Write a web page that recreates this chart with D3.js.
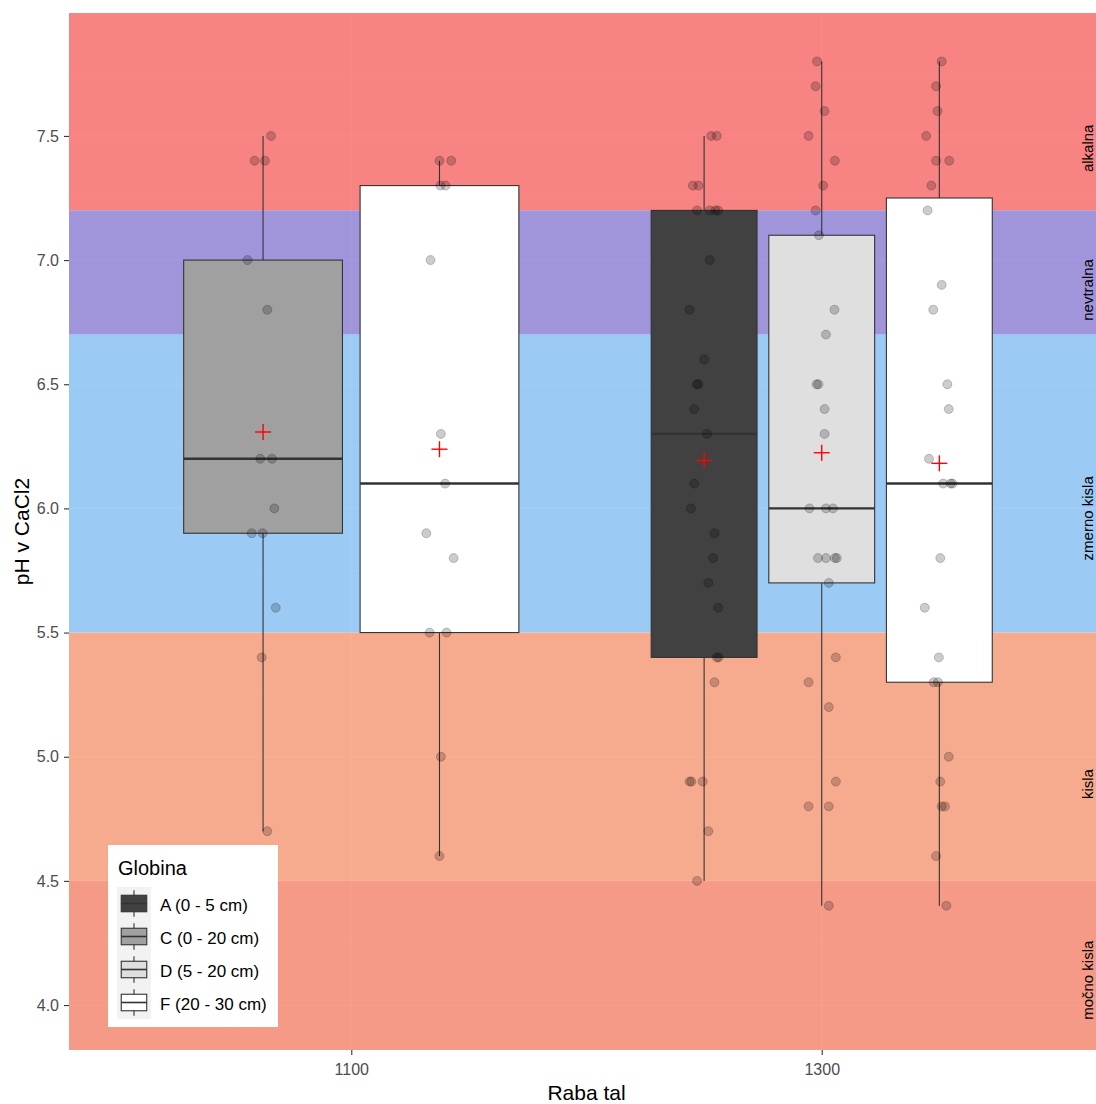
<!DOCTYPE html>
<html>
<head>
<meta charset="utf-8">
<script src="https://cdn.jsdelivr.net/npm/d3@7/dist/d3.min.js"></script>
<style>
  body { margin: 0; background: #fff; }
  svg { display: block; font-family: "Liberation Sans", Arial, sans-serif; }
</style>
</head>
<body>
<script>
// pH classes shown as horizontal bands
const bandNames   = ["alkalna", "nevtralna", "zmerno kisla", "kisla", "močno kisla"];
const bandFrom    = [7.2, 6.7, 5.5, 4.5, -Infinity];
const bandTo      = [Infinity, 7.2, 6.7, 5.5, 4.5];
const bandLabelAt = [7.45, 6.88, 5.96, 4.89, 4.1];

// land use (x categories) and sampling depth (fill groups)
const rabaTal = ["1100", "1300"];
const globina = ["A (0 - 5 cm)", "C (0 - 20 cm)", "D (5 - 20 cm)", "F (20 - 30 cm)"];

const yTicks = [4.0, 4.5, 5.0, 5.5, 6.0, 6.5, 7.0, 7.5];
const yMinor = [4.25, 4.75, 5.25, 5.75, 6.25, 6.75, 7.25, 7.75];

// measured pH in CaCl2, with the horizontal jitter of each point (category units)
const ph1100C  = [7.5, 7.4, 7.4, 7.0, 6.8, 6.2, 6.2, 6.0, 5.9, 5.9, 5.6, 5.4, 4.7];
const jit1100C = [0.017, -0.018, 0.004, -0.033, 0.009, -0.006, 0.019, 0.024, -0.024, -0.001, 0.027, -0.003, 0.009];

const ph1100F  = [7.4, 7.4, 7.3, 7.3, 7.0, 6.3, 6.1, 5.9, 5.8, 5.5, 5.5, 5.0, 4.6];
const jit1100F = [0.000, 0.025, 0.002, 0.013, -0.019, 0.003, 0.012, -0.028, 0.030, -0.021, 0.015, 0.003, 0.000];

const ph1300A  = [7.5, 7.5, 7.3, 7.3, 7.2, 7.2, 7.2, 7.2, 7.0, 6.8, 6.6, 6.5, 6.5, 6.4, 6.3, 6.1, 6.0, 5.9, 5.8, 5.7, 5.6, 5.4, 5.4, 5.3, 4.9, 4.9, 4.9, 4.7, 4.5];
const jit1300A = [0.015, 0.027, -0.024, -0.012, -0.015, 0.012, 0.024, 0.030, 0.012, -0.031, 0.000, -0.016, -0.012, -0.021, 0.006, -0.021, -0.028, 0.022, 0.019, 0.009, 0.030, 0.027, 0.031, 0.022, -0.031, -0.027, -0.003, 0.009, -0.015];

const ph1300D  = [7.8, 7.7, 7.6, 7.5, 7.4, 7.3, 7.2, 7.1, 6.8, 6.7, 6.5, 6.5, 6.4, 6.3, 6.0, 6.0, 6.0, 5.8, 5.8, 5.8, 5.8, 5.7, 5.4, 5.3, 5.2, 4.9, 4.8, 4.8, 4.4];
const jit1300D = [-0.010, -0.013, 0.006, -0.028, 0.028, 0.003, -0.013, -0.006, 0.027, 0.009, -0.011, -0.007, 0.006, 0.006, -0.026, 0.009, 0.024, -0.008, 0.009, 0.028, 0.032, 0.015, 0.030, -0.028, 0.015, 0.030, -0.028, 0.015, 0.015];

const ph1300F  = [7.8, 7.7, 7.6, 7.5, 7.4, 7.4, 7.3, 7.2, 6.9, 6.8, 6.5, 6.4, 6.2, 6.1, 6.1, 6.1, 5.8, 5.6, 5.4, 5.3, 5.3, 5.0, 4.9, 4.8, 4.8, 4.6, 4.4];
const jit1300F = [0.005, -0.007, -0.004, -0.028, -0.007, 0.021, -0.017, -0.025, 0.005, -0.013, 0.017, 0.020, -0.022, 0.008, 0.024, 0.028, 0.002, -0.031, -0.001, -0.012, -0.003, 0.020, 0.002, 0.005, 0.012, -0.007, 0.015];

const groups = [
  { raba: "1100", glob: globina[1], ph: ph1100C, jit: jit1100C },
  { raba: "1100", glob: globina[3], ph: ph1100F, jit: jit1100F },
  { raba: "1300", glob: globina[0], ph: ph1300A, jit: jit1300A },
  { raba: "1300", glob: globina[2], ph: ph1300D, jit: jit1300D },
  { raba: "1300", glob: globina[3], ph: ph1300F, jit: jit1300F }
];

// ---- styling ----
const bandColors = ["#FA6969", "#8D7FD6", "#87C3F7", "#FA9B77", "#F7866E"];
const fillColors = ["#414141", "#A0A0A0", "#DFDFDF", "#FFFFFF"];

const W = 1096, H = 1104;
const panel = { left: 69, right: 1104, top: 13, bottom: 1050 };

const svg = d3.select("body").append("svg").attr("width", W).attr("height", H);

const y = d3.scaleLinear().domain([3.819, 7.995]).range([panel.bottom, panel.top]);
// categories sit at positions 1, 2 on a continuous axis
const x = d3.scaleLinear().domain([0.4, 2.6]).range([panel.left, panel.right]);
const catPos = d => rabaTal.indexOf(d) + 1;
const fill = d3.scaleOrdinal().domain(globina).range(fillColors);

svg.append("defs").append("clipPath").attr("id", "pclip")
  .append("rect").attr("x", panel.left).attr("y", panel.top)
  .attr("width", panel.right - panel.left).attr("height", panel.bottom - panel.top);

const P = svg.append("g").attr("clip-path", "url(#pclip)");

// panel background and grid
P.append("rect").attr("x", panel.left).attr("y", panel.top)
  .attr("width", panel.right - panel.left).attr("height", panel.bottom - panel.top)
  .attr("fill", "#EBEBEB");
P.selectAll("line.minor").data(yMinor).join("line").attr("class", "minor")
  .attr("x1", panel.left).attr("x2", panel.right)
  .attr("y1", d => y(d)).attr("y2", d => y(d))
  .attr("stroke", "#fff").attr("stroke-width", 0.6);
P.selectAll("line.major").data(yTicks).join("line").attr("class", "major")
  .attr("x1", panel.left).attr("x2", panel.right)
  .attr("y1", d => y(d)).attr("y2", d => y(d))
  .attr("stroke", "#fff").attr("stroke-width", 1.2);
P.selectAll("line.vmajor").data(rabaTal).join("line").attr("class", "vmajor")
  .attr("x1", d => x(catPos(d))).attr("x2", d => x(catPos(d)))
  .attr("y1", panel.top).attr("y2", panel.bottom)
  .attr("stroke", "#fff").attr("stroke-width", 1.2);

// pH class bands (open ends run to the panel edge)
const yc = v => v === Infinity ? panel.top : v === -Infinity ? panel.bottom
  : Math.max(panel.top, Math.min(panel.bottom, y(v)));
P.selectAll("rect.band").data(bandNames).join("rect").attr("class", "band")
  .attr("x", panel.left).attr("width", panel.right - panel.left)
  .attr("y", (d, i) => yc(bandTo[i]))
  .attr("height", (d, i) => yc(bandFrom[i]) - yc(bandTo[i]))
  .attr("fill", (d, i) => bandColors[i]).attr("fill-opacity", 0.8);

// band names on the right edge
P.selectAll("text.band").data(bandNames).join("text").attr("class", "band")
  .attr("transform", (d, i) => `translate(${panel.right - 11},${y(bandLabelAt[i])}) rotate(-90)`)
  .attr("text-anchor", "middle").attr("font-size", 15).attr("fill", "#000")
  .text(d => d);

// box statistics (Tukey, quantile type 7)
const boxWidthTotal = 0.75;
const stats = groups.map(g => {
  const s = g.ph.slice().sort(d3.ascending);
  const q1 = d3.quantile(s, 0.25), med = d3.quantile(s, 0.5), q3 = d3.quantile(s, 0.75);
  const iqr = q3 - q1;
  const lo = d3.min(s.filter(v => v >= q1 - 1.5 * iqr));
  const hi = d3.max(s.filter(v => v <= q3 + 1.5 * iqr));
  const siblings = groups.filter(o => o.raba === g.raba);
  const k = siblings.length, idx = siblings.indexOf(g);
  const slot = boxWidthTotal / k;
  const center = catPos(g.raba) - boxWidthTotal / 2 + slot * (idx + 0.5);
  const half = slot * 0.9 / 2;
  return { g, q1, med, q3, lo, hi, mean: d3.mean(s), center, half };
});

const boxes = P.selectAll("g.box").data(stats).join("g").attr("class", "box");
boxes.append("line")
  .attr("x1", d => x(d.center)).attr("x2", d => x(d.center))
  .attr("y1", d => y(d.hi)).attr("y2", d => y(d.q3))
  .attr("stroke", "#333").attr("stroke-width", 1.1);
boxes.append("line")
  .attr("x1", d => x(d.center)).attr("x2", d => x(d.center))
  .attr("y1", d => y(d.q1)).attr("y2", d => y(d.lo))
  .attr("stroke", "#333").attr("stroke-width", 1.1);
boxes.append("rect")
  .attr("x", d => x(d.center - d.half)).attr("width", d => x(d.center + d.half) - x(d.center - d.half))
  .attr("y", d => y(d.q3)).attr("height", d => y(d.q1) - y(d.q3))
  .attr("fill", d => fill(d.g.glob)).attr("stroke", "#333").attr("stroke-width", 1.1);
boxes.append("line")
  .attr("x1", d => x(d.center - d.half)).attr("x2", d => x(d.center + d.half))
  .attr("y1", d => y(d.med)).attr("y2", d => y(d.med))
  .attr("stroke", "#333").attr("stroke-width", 2.4);

// jittered samples
const pts = stats.flatMap(st => st.g.ph.map((v, i) => ({ v, xp: st.center + st.g.jit[i] })));
P.selectAll("circle.pt").data(pts).join("circle").attr("class", "pt")
  .attr("cx", d => x(d.xp)).attr("cy", d => y(d.v)).attr("r", 4.5)
  .attr("fill", "#000").attr("fill-opacity", 0.2)
  .attr("stroke", "#000").attr("stroke-opacity", 0.2).attr("stroke-width", 1);

// group means
const cross = 8;
const means = P.selectAll("g.mean").data(stats).join("g").attr("class", "mean");
means.append("line")
  .attr("x1", d => x(d.center) - cross).attr("x2", d => x(d.center) + cross)
  .attr("y1", d => y(d.mean)).attr("y2", d => y(d.mean))
  .attr("stroke", "#FF0000").attr("stroke-width", 1.4);
means.append("line")
  .attr("x1", d => x(d.center)).attr("x2", d => x(d.center))
  .attr("y1", d => y(d.mean) - cross).attr("y2", d => y(d.mean) + cross)
  .attr("stroke", "#FF0000").attr("stroke-width", 1.4);

// axes
const yAxis = svg.append("g").attr("transform", `translate(${panel.left},0)`)
  .call(d3.axisLeft(y).tickValues(yTicks).tickFormat(d3.format(".1f")).tickSize(5).tickPadding(5));
const xAxis = svg.append("g").attr("transform", `translate(0,${panel.bottom})`)
  .call(d3.axisBottom(x).tickValues(rabaTal.map(catPos)).tickFormat((d, i) => rabaTal[i]).tickSize(5).tickPadding(9));
[yAxis, xAxis].forEach(a => {
  a.select(".domain").remove();
  a.selectAll(".tick line").attr("stroke", "#333").attr("stroke-width", 1.1);
  a.selectAll(".tick text").attr("fill", "#4D4D4D").attr("font-size", 16)
    .attr("font-family", "Liberation Sans, Arial, sans-serif");
});

svg.append("text").attr("x", (panel.left + panel.right) / 2).attr("y", 1100)
  .attr("text-anchor", "middle").attr("font-size", 21).attr("fill", "#000").text("Raba tal");
svg.append("text").attr("transform", `translate(29,${(panel.top + panel.bottom) / 2}) rotate(-90)`)
  .attr("text-anchor", "middle").attr("font-size", 21).attr("fill", "#000").text("pH v CaCl2");

// legend
const L = svg.append("g").attr("transform", "translate(108,845)");
L.append("rect").attr("width", 170).attr("height", 182).attr("fill", "#fff");
L.append("text").attr("x", 10).attr("y", 30).attr("font-size", 20).attr("fill", "#000").text("Globina");
const keyW = 34, keyH = 33, keyX = 9, keyY = 42;
const keys = L.selectAll("g.key").data(globina).join("g").attr("class", "key")
  .attr("transform", (d, i) => `translate(${keyX},${keyY + i * keyH})`);
keys.append("rect").attr("width", keyW).attr("height", keyH).attr("fill", "#F2F2F2");
keys.append("line").attr("x1", keyW / 2).attr("x2", keyW / 2).attr("y1", keyH * 0.1).attr("y2", keyH * 0.9)
  .attr("stroke", "#333").attr("stroke-width", 1.1);
keys.append("rect").attr("x", keyW * 0.125).attr("width", keyW * 0.75)
  .attr("y", keyH * 0.25).attr("height", keyH * 0.5)
  .attr("fill", d => fill(d)).attr("stroke", "#333").attr("stroke-width", 1.1);
keys.append("line").attr("x1", keyW * 0.125).attr("x2", keyW * 0.875).attr("y1", keyH / 2).attr("y2", keyH / 2)
  .attr("stroke", "#333").attr("stroke-width", 1.6);
keys.append("text").attr("x", keyW + 9).attr("y", keyH / 2 + 2)
  .attr("dominant-baseline", "central").attr("font-size", 17).attr("fill", "#000").text(d => d);
</script>
</body>
</html>
